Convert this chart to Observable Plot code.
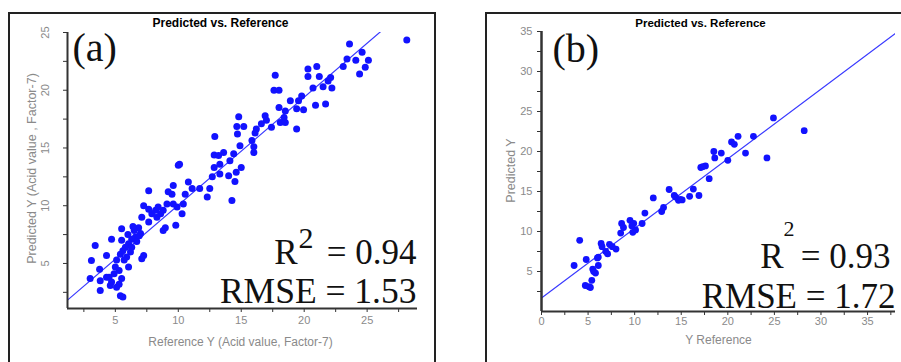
<!DOCTYPE html>
<html><head><meta charset="utf-8">
<script src="https://cdn.jsdelivr.net/npm/d3@7"></script>
<script src="https://cdn.jsdelivr.net/npm/@observablehq/plot@0.6"></script>
<style>
html,body{margin:0;padding:0;background:#fff;}
#wrap{position:relative;width:901px;height:362px;overflow:hidden;background:#fff;}
.box{position:absolute;border:2px solid #222;box-sizing:border-box;}
#boxA{left:8px;top:12px;width:428px;height:400px;}
#boxB{left:485px;top:12px;width:440px;height:400px;}
#plotA,#plotB{position:absolute;top:0;}
#plotA{left:0;width:450px;}
#plotB{left:450px;width:451px;}
</style></head><body>
<div id="wrap"><div class="box" id="boxA"></div><div class="box" id="boxB"></div><div id="plotA"></div><div id="plotB"></div></div>
<script>
// ---------- Panel (a) data ----------
const aRef = [28.15,23.6,24.6,23.4,24.1,25.1,23.1,24.85,24.4,21.0,20.3,20.3,21.2,22.1,21.9,21.5,22.2,20.7,19.8,21.7,20.9,19.95,19.4,19.55,18.9,17.7,17.6,18.0,18.0,18.5,18.4,18.1,18.5,19.4,17.4,16.9,17.0,16.6,16.2,16.1,15.85,16.0,16.0,14.8,15.2,14.65,14.7,14.9,14.4,14.1,15.0,14.6,14.5,14.0,14.26,12.9,12.85,13.2,12.85,13.6,13.3,12.7,13.3,12.5,12.3,10.8,11.1,11.7,10.55,10.4,10.0,10.1,9.6,9.5,9.2,9.6,9.9,10.3,9.8,9.1,8.8,8.6,8.3,8.2,8.4,7.9,7.65,7.25,7.65,8.8,8.97,7.65,7.1,7.0,6.85,6.5,6.6,6.3,7.25,7.1,6.05,5.8,5.5,6.2,5.9,6.05,5.5,5.4,5.1,5.7,5.0,5.3,4.9,4.7,4.3,4.5,4.7,4.6,5.3,5.1,5.4,5.6,5.5,3.8,3.75,3.8,3.1,3.4,3.0,4.3,6.3,6.7,6.0,5.6,6.9,6.4];
const aPred = [24.36,24.0,23.3,22.7,22.6,22.6,22.05,22.0,21.4,22.05,21.85,21.2,21.2,21.1,20.8,20.3,20.2,20.2,19.5,18.8,18.7,18.3,18.4,19.1,19.1,21.3,20.0,20.0,18.5,18.2,17.65,17.2,17.2,16.65,16.8,17.8,17.4,17.1,16.65,16.3,15.65,15.1,14.6,17.7,16.85,16.85,16.2,15.2,14.5,13.9,13.3,12.9,12.1,12.6,10.45,16.0,14.4,14.35,13.3,14.6,13.6,12.5,12.75,11.5,10.75,12.05,11.5,11.5,11.0,10.15,13.5,13.6,11.75,11.0,11.2,10.15,9.9,9.3,8.3,10.15,9.6,9.3,9.0,9.6,9.9,9.3,11.3,10.0,9.7,7.85,8.1,8.6,9.0,7.6,8.1,7.85,7.3,7.1,5.7,5.4,6.7,6.4,8.0,6.0,5.55,4.7,7.0,5.8,5.3,5.3,4.7,4.4,4.1,7.1,5.7,3.8,3.4,3.1,3.2,2.95,2.2,2.1,3.7,3.5,4.5,2.65,5.25,6.55,3.7,3.8,6.4,6.9,7.5,6.1,7.4,8.2];
const aFit = {intercept: 0.7, slope: 0.935};
const aXDomain = [1.2, 29];
const aYDomain = [1.1, 25];
const aXTicks = [5, 10, 15, 20, 25];
const aXMinor = [2.5, 7.5, 12.5, 17.5, 22.5, 27.5];
const aYTicks = [5, 10, 15, 20, 25];
const aYMinor = [2.5, 7.5, 12.5, 17.5, 22.5];
const aTitle = "Predicted vs. Reference";
const aXLabel = "Reference Y (Acid value, Factor-7)";
const aYLabel = "Predicted Y (Acid value , Factor-7)";
const aTag = "(a)";
const aR2 = "= 0.94";
const aRmse = "RMSE = 1.53";

// ---------- Panel (b) data ----------
const bRef = [28.2,24.9,24.2,22.75,21.1,20.4,20.7,21.9,20.0,19.3,18.5,18.6,17.6,17.1,17.3,18.0,16.9,16.3,15.9,15.1,14.7,14.4,14.25,13.7,13.1,12.9,12.0,11.1,10.8,10.1,9.8,9.5,9.9,8.6,8.8,8.5,8.0,7.6,7.3,6.9,6.5,6.4,6.1,6.1,5.8,5.5,5.4,5.1,5.25,4.8,4.1,3.5,4.7,6.0,7.1,5.6,14.9,9.7];
const bPred = [22.6,24.2,19.2,21.9,21.9,21.2,20.9,19.8,18.9,19.8,20.0,19.2,18.2,18.0,18.1,16.6,14.5,15.3,14.4,13.95,13.9,14.3,14.5,15.25,13.0,12.5,14.2,12.3,11.0,10.2,9.9,11.4,11.0,11.0,10.5,9.8,7.8,8.1,8.4,7.5,8.1,8.5,6.8,5.75,4.8,5.3,3.9,3.1,3.0,6.5,8.9,5.75,3.25,6.7,7.2,5.0,14.0,10.7];
const bFit = {intercept: 1.7, slope: 0.87};
const bXDomain = [0, 38];
const bYDomain = [0, 35];
const bXTicks = [0, 5, 10, 15, 20, 25, 30, 35];
const bXMinor = [2.5, 7.5, 12.5, 17.5, 22.5, 27.5, 32.5, 37.5];
const bYTicks = [5, 10, 15, 20, 25, 30, 35];
const bYMinor = [2.5, 7.5, 12.5, 17.5, 22.5, 27.5, 32.5];
const bTitle = "Predicted vs. Reference";
const bXLabel = "Y Reference";
const bYLabel = "Predicted Y";
const bTag = "(b)";
const bR2 = "= 0.93";
const bRmse = "RMSE = 1.72";

const dotBlue = "#1212ff";
const lineBlue = "#3a3aff";
const axisDark = "#333";
const tickGray = "#8a8a8a";
const serif = "Liberation Serif";
const sans = "Liberation Sans";

function one(s) { return [s]; }

// ---------- Plot (a) ----------
const aPts = aRef.map((r, i) => ({ref: r, pred: aPred[i]}));
const aLine = aXDomain.map(x => ({x, y: aFit.intercept + aFit.slope * x}));
const plotA = Plot.plot({
  width: 450, height: 362,
  marginLeft: 67, marginRight: 33, marginTop: 32, marginBottom: 54,
  style: {background: "transparent", overflow: "visible", fontFamily: sans},
  x: {domain: aXDomain, label: null},
  y: {domain: aYDomain, label: null},
  marks: [
    Plot.line(aLine, {x: "x", y: "y", stroke: lineBlue, strokeWidth: 1.2, clip: true}),
    Plot.dot(aPts, {x: "ref", y: "pred", r: 3.5, fill: dotBlue, stroke: "none"}),
    Plot.ruleY([aYDomain[0]], {stroke: axisDark, strokeWidth: 2}),
    Plot.ruleX([aXDomain[0]], {stroke: axisDark, strokeWidth: 2}),
    Plot.axisX({ticks: aXMinor, tickSize: 4, tickFormat: () => "", stroke: axisDark, label: null}),
    Plot.axisX({ticks: aXTicks, tickSize: 4, tickPadding: 4, stroke: axisDark, fill: tickGray, fontSize: 11, label: null}),
    Plot.axisY({ticks: aYMinor, tickSize: 4, tickFormat: () => "", stroke: axisDark, label: null}),
    Plot.axisY({ticks: aYTicks, tickSize: 4, tickFormat: () => "", stroke: axisDark, label: null}),
    Plot.text(aYTicks, {y: d => d, text: d => String(d), frameAnchor: "left", dx: -22, rotate: -90, textAnchor: "middle", lineAnchor: "middle", fill: tickGray, fontSize: 11}),
    Plot.text(one(aTitle), {text: d => d, frameAnchor: "top", dx: -22, dy: -9, lineAnchor: "middle", fontWeight: "bold", fontSize: 12, fill: "#000"}),
    Plot.text(one(aXLabel), {text: d => d, frameAnchor: "bottom", dx: -2, dy: 34, lineAnchor: "middle", fontSize: 12, fill: tickGray}),
    Plot.text(one(aYLabel), {text: d => d, frameAnchor: "left", dx: -36, dy: -2, rotate: -90, textAnchor: "middle", lineAnchor: "middle", fontSize: 12.5, fill: tickGray}),
    Plot.text(one(aTag), {text: d => d, frameAnchor: "top-left", dx: 5, dy: 28, textAnchor: "start", lineAnchor: "bottom", fontSize: 40, fontFamily: serif, fill: "#111"}),
    Plot.text(one("R"), {text: d => d, frameAnchor: "bottom-right", dx: -120, dy: -45, textAnchor: "end", lineAnchor: "bottom", fontSize: 35, fontFamily: serif, fill: "#111"}),
    Plot.text(one("2"), {text: d => d, frameAnchor: "bottom-right", dx: -119, dy: -61, textAnchor: "start", lineAnchor: "bottom", fontSize: 30, fontFamily: serif, fill: "#111"}),
    Plot.text(one(aR2), {text: d => d, frameAnchor: "bottom-right", dx: -1, dy: -45, textAnchor: "end", lineAnchor: "bottom", fontSize: 35, fontFamily: serif, fill: "#111"}),
    Plot.text(one(aRmse), {text: d => d, frameAnchor: "bottom-right", dx: -1, dy: -6, textAnchor: "end", lineAnchor: "bottom", fontSize: 35.5, fontFamily: serif, fill: "#111"})
  ]
});
document.getElementById("plotA").append(plotA);

// ---------- Plot (b) ----------
const bPts = bRef.map((r, i) => ({ref: r, pred: bPred[i]}));
const bLine = bXDomain.map(x => ({x, y: bFit.intercept + bFit.slope * x}));
const plotB = Plot.plot({
  width: 451, height: 362,
  marginLeft: 91, marginRight: 6, marginTop: 31, marginBottom: 51,
  style: {background: "transparent", overflow: "visible", fontFamily: sans},
  x: {domain: bXDomain, label: null},
  y: {domain: bYDomain, label: null},
  marks: [
    Plot.line(bLine, {x: "x", y: "y", stroke: lineBlue, strokeWidth: 1.2, clip: true}),
    Plot.dot(bPts, {x: "ref", y: "pred", r: 3.4, fill: dotBlue, stroke: "none"}),
    Plot.ruleY([bYDomain[0]], {stroke: axisDark, strokeWidth: 2}),
    Plot.ruleX([bXDomain[0]], {stroke: axisDark, strokeWidth: 2.5}),
    Plot.axisX({ticks: bXMinor, tickSize: 4, tickFormat: () => "", stroke: axisDark, label: null}),
    Plot.axisX({ticks: bXTicks, tickSize: 4, tickPadding: 2, stroke: axisDark, fill: tickGray, fontSize: 11, label: null}),
    Plot.axisY({ticks: bYMinor, tickSize: 4, tickFormat: () => "", stroke: axisDark, label: null}),
    Plot.axisY({ticks: bYTicks, tickSize: 4, tickPadding: 5, stroke: axisDark, fill: tickGray, fontSize: 11, label: null}),
    Plot.text(one(bTitle), {text: d => d, frameAnchor: "top", dx: -18, dy: -8, lineAnchor: "middle", fontWeight: "bold", fontSize: 11.5, fill: "#000"}),
    Plot.text(one(bXLabel), {text: d => d, frameAnchor: "bottom", dx: 0, dy: 29, lineAnchor: "middle", fontSize: 12, fill: tickGray}),
    Plot.text(one(bYLabel), {text: d => d, frameAnchor: "left", dx: -31, dy: -1, rotate: -90, textAnchor: "middle", lineAnchor: "middle", fontSize: 12.5, fill: tickGray}),
    Plot.text(one(bTag), {text: d => d, frameAnchor: "top-left", dx: 11, dy: 30, textAnchor: "start", lineAnchor: "bottom", fontSize: 40, fontFamily: serif, fill: "#111"}),
    Plot.text(one("R"), {text: d => d, frameAnchor: "bottom-right", dx: -112, dy: -44, textAnchor: "end", lineAnchor: "bottom", fontSize: 35, fontFamily: serif, fill: "#111"}),
    Plot.text(one("2"), {text: d => d, frameAnchor: "bottom-right", dx: -112, dy: -76, textAnchor: "start", lineAnchor: "bottom", fontSize: 22, fontFamily: serif, fill: "#111"}),
    Plot.text(one(bR2), {text: d => d, frameAnchor: "bottom-right", dx: -5, dy: -44, textAnchor: "end", lineAnchor: "bottom", fontSize: 35, fontFamily: serif, fill: "#111"}),
    Plot.text(one(bRmse), {text: d => d, frameAnchor: "bottom-right", dx: 0, dy: -4, textAnchor: "end", lineAnchor: "bottom", fontSize: 35, fontFamily: serif, fill: "#111"})
  ]
});
document.getElementById("plotB").append(plotB);
</script>
</body></html>
